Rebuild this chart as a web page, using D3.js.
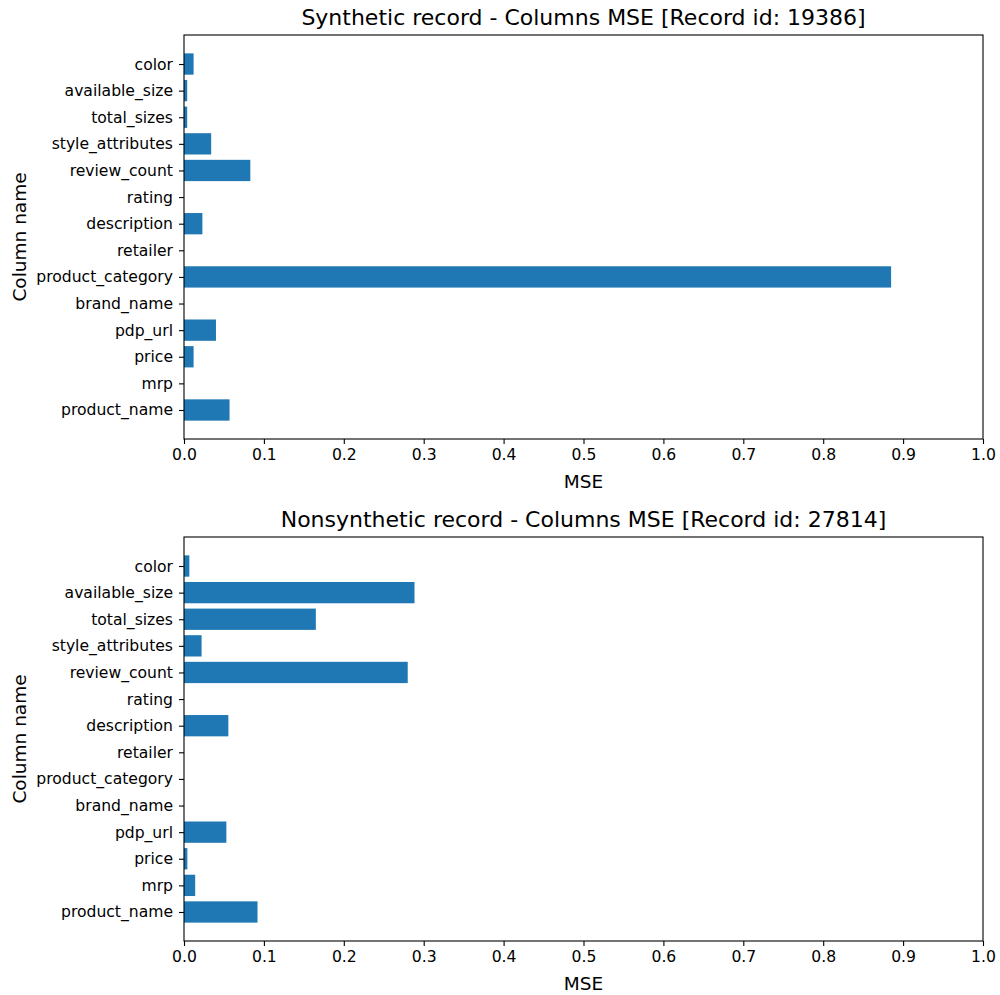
<!DOCTYPE html>
<html lang="en">
<head>
    <meta charset="UTF-8">
    <title>Columns MSE</title>
    <style>
        body { margin: 0; background: #fff; }
        svg, svg text { font-family: "DejaVu Sans", sans-serif; }
        svg { display: block; }
        .axis path, .axis line { stroke: #000; stroke-width: 1.1; }
        .axis text { fill: #000; font-size: 15.6px; font-family: "DejaVu Sans", sans-serif; }
    </style>
</head>
<body>
<svg width="1000" height="995"></svg>
<script src="https://d3js.org/d3.v7.min.js"></script>
<script>
    // column names, bottom to top as drawn by matplotlib barh
    var columns = ["product_name", "mrp", "price", "pdp_url", "brand_name", "product_category",
        "retailer", "description", "rating", "review_count", "style_attributes",
        "total_sizes", "available_size", "color"];

    var syntheticMse = [0.057, 0, 0.012, 0.040, 0, 0.885, 0, 0.023, 0, 0.083, 0.034, 0.004, 0.004, 0.012];
    var nonsyntheticMse = [0.092, 0.014, 0.0042, 0.053, 0, 0, 0, 0.0555, 0, 0.280, 0.022, 0.165, 0.2885, 0.0067];

    var xTicks = [0, 0.1, 0.2, 0.3, 0.4, 0.5, 0.6, 0.7, 0.8, 0.9, 1.0];

    var panels = [
        {title: "Synthetic record - Columns MSE [Record id: 19386]", values: syntheticMse, top: 35},
        {title: "Nonsynthetic record - Columns MSE [Record id: 27814]", values: nonsyntheticMse, top: 537}
    ];

    var svg = d3.select("svg"),
        left = 184, width = 799, height = 404;

    var x = d3.scaleLinear().domain([0, 1]).range([0, width]);
    // barh with 5% margins -> ylim [-1.09, 14.09]
    var y = d3.scaleLinear().domain([-1.09, columns.length - 1 + 1.09]).range([height, 0]);

    panels.forEach(function(p) {
        var g = svg.append("g")
            .attr("transform", "translate(" + left + "," + p.top + ")");

        g.selectAll(".bar")
            .data(p.values)
            .enter().append("rect")
            .attr("class", "bar")
            .attr("fill", "#1f77b4")
            .attr("x", x(0))
            .attr("y", function(d, i) { return y(i + 0.4); })
            .attr("width", function(d) { return x(d) - x(0); })
            .attr("height", y(0) - y(0.8));

        g.append("g")
            .attr("class", "axis")
            .attr("transform", "translate(0," + height + ")")
            .call(d3.axisBottom(x).tickValues(xTicks).tickFormat(d3.format(".1f")).tickSize(5).tickPadding(5).tickSizeOuter(0));

        g.append("g")
            .attr("class", "axis")
            .call(d3.axisLeft(y).tickValues(d3.range(columns.length))
                .tickFormat(function(i) { return columns[i]; }).tickSize(5).tickPadding(6).tickSizeOuter(0));

        g.selectAll(".axis path").remove();

        g.append("rect")
            .attr("width", width)
            .attr("height", height)
            .attr("fill", "none")
            .attr("stroke", "#000")
            .attr("stroke-width", 1.1);

        g.append("text")
            .attr("x", width / 2)
            .attr("y", -10)
            .attr("text-anchor", "middle")
            .attr("font-size", "22px")
            .text(p.title);

        g.append("text")
            .attr("x", width / 2)
            .attr("y", height + 49)
            .attr("text-anchor", "middle")
            .attr("font-size", "18.5px")
            .text("MSE");

        g.append("text")
            .attr("transform", "rotate(-90)")
            .attr("x", -height / 2)
            .attr("y", -158)
            .attr("text-anchor", "middle")
            .attr("font-size", "18.5px")
            .text("Column name");
    });
</script>
</body>
</html>
